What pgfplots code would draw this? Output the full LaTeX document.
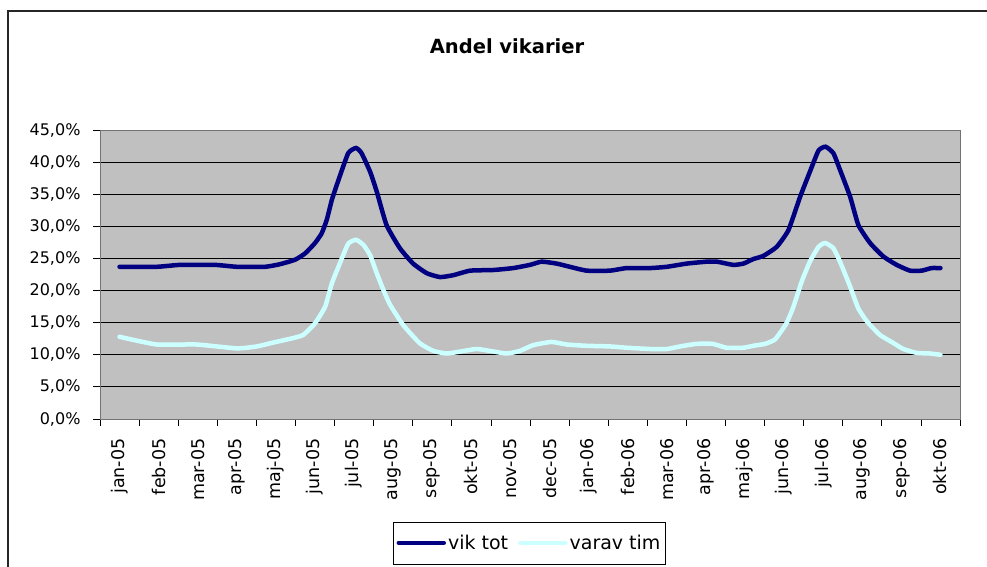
\documentclass[border=0pt]{standalone}
\usepackage{pgfplots}
\pgfplotsset{compat=1.18}
\usepackage{fontspec}
\setmainfont{DejaVu Sans}
\definecolor{vikcol}{HTML}{000080}
\definecolor{timcol}{HTML}{CCFFFF}
\definecolor{plotbg}{HTML}{C0C0C0}
\begin{document}
\begin{tikzpicture}[x=1pt,y=1pt]
\useasboundingbox (0,0) rectangle (987,566);
\begin{scope}
\clip (0,0) rectangle (987,566);
\draw[line width=2pt, black!85] (8,-20) -- (8,555) -- (1010,555);
\end{scope}
\node[font=\fontsize{19.5}{23}\selectfont\bfseries] at (507,520) {Andel vikarier};
\begin{axis}[
  at={(100pt,147pt)}, anchor=south west,
  width=860pt, height=289pt, scale only axis,
  xmin=-0.5, xmax=21.5, ymin=0, ymax=45,
  axis background/.style={fill=plotbg},
  axis line style={draw=black!55, line width=1pt},
  xtick={0,...,21},
  xticklabels={jan-05,feb-05,mar-05,apr-05,maj-05,jun-05,jul-05,aug-05,sep-05,okt-05,nov-05,dec-05,jan-06,feb-06,mar-06,apr-06,maj-06,jun-06,jul-06,aug-06,sep-06,okt-06},
  major x tick style={draw=none},
  minor xtick={-0.5,0.5,...,21.5},
  minor tick length=7pt,
  major tick length=7pt,
  tick align=outside,
  xtick pos=bottom, ytick pos=left,
  tick style={black, line width=0.8pt},
  ytick={0,5,...,45},
  yticklabels={{0,0\%},{5,0\%},{10,0\%},{15,0\%},{20,0\%},{25,0\%},{30,0\%},{35,0\%},{40,0\%},{45,0\%}},
  ymajorgrids,
  major grid style={black, line width=0.8pt},
  tick label style={font=\fontsize{16}{19}\selectfont},
  xticklabel style={rotate=90, anchor=east, xshift=-9pt, font=\fontsize{17.5}{20}\selectfont},
  yticklabel style={xshift=-9pt},
  legend style={at={(0.4994,-0.355)}, anchor=north, legend columns=2, draw=black, fill=white,
    font=\fontsize{19}{22}\selectfont, inner xsep=3pt, inner ysep=11pt,
    /tikz/every even column/.append style={column sep=8pt}},
  legend image code/.code={\draw[#1] (0pt,0pt) -- (45pt,0pt);},
]
\addplot[vikcol, line width=4.5pt, smooth, tension=0.3, line cap=round] coordinates {
(0,23.7) (0.95,23.7) (1.55,24.0) (2.44,24.0) (3.0,23.7) (3.72,23.7) (4.10,24.1) (4.49,24.8) (4.75,25.8) (5.00,27.4) (5.17,28.9) (5.30,31.0) (5.43,34.1) (5.60,37.2) (5.85,41.4) (6.05,42.2) (6.19,41.4) (6.41,38.5) (6.58,35.4) (6.83,30.2) (7.17,26.6) (7.51,24.2) (7.86,22.7) (8.20,22.1) (8.54,22.4) (8.97,23.1) (9.56,23.2) (10.07,23.5) (10.50,24.0) (10.80,24.5) (11.18,24.2) (11.52,23.7) (11.95,23.1) (12.55,23.1) (12.97,23.5) (13.57,23.5) (14.00,23.7) (14.51,24.2) (15.02,24.5) (15.28,24.5) (15.70,24.0) (15.96,24.2) (16.21,24.9) (16.47,25.4) (16.81,26.8) (17.11,29.4) (17.41,34.6) (17.66,38.5) (17.88,41.8) (18.06,42.4) (18.26,41.4) (18.43,38.8) (18.69,34.6) (18.90,30.2) (19.20,27.4) (19.54,25.3) (19.88,24.0) (20.22,23.1) (20.52,23.1) (20.77,23.5) (21.0,23.5)
};
\addlegendentry{vik tot}
\addplot[timcol, line width=4.5pt, smooth, tension=0.3, line cap=round] coordinates {
(0,12.8) (0.95,11.6) (1.97,11.6) (3.0,11.0) (3.51,11.3) (3.93,11.9) (4.44,12.6) (4.70,13.1) (5.00,14.9) (5.26,17.5) (5.43,21.1) (5.64,24.3) (5.85,27.3) (6.05,27.9) (6.24,27.1) (6.41,25.5) (6.58,22.7) (6.75,20.1) (6.92,17.8) (7.26,14.6) (7.68,11.8) (8.03,10.6) (8.37,10.2) (8.71,10.5) (9.13,10.9) (9.48,10.6) (9.90,10.2) (10.24,10.6) (10.58,11.5) (11.05,12.0) (11.44,11.6) (11.95,11.4) (12.55,11.3) (12.97,11.1) (13.57,10.9) (14.00,10.9) (14.34,11.3) (14.76,11.7) (15.18,11.7) (15.52,11.1) (15.96,11.1) (16.21,11.4) (16.51,11.7) (16.77,12.4) (17.06,14.9) (17.24,17.5) (17.45,21.4) (17.66,24.5) (17.88,26.8) (18.05,27.4) (18.26,26.6) (18.43,24.5) (18.69,20.6) (18.90,17.2) (19.12,15.2) (19.45,13.1) (19.75,12.0) (20.05,10.9) (20.39,10.3) (20.73,10.2) (21.0,10.0)
};
\addlegendentry{varav tim}
\end{axis}
\end{tikzpicture}
\end{document}
